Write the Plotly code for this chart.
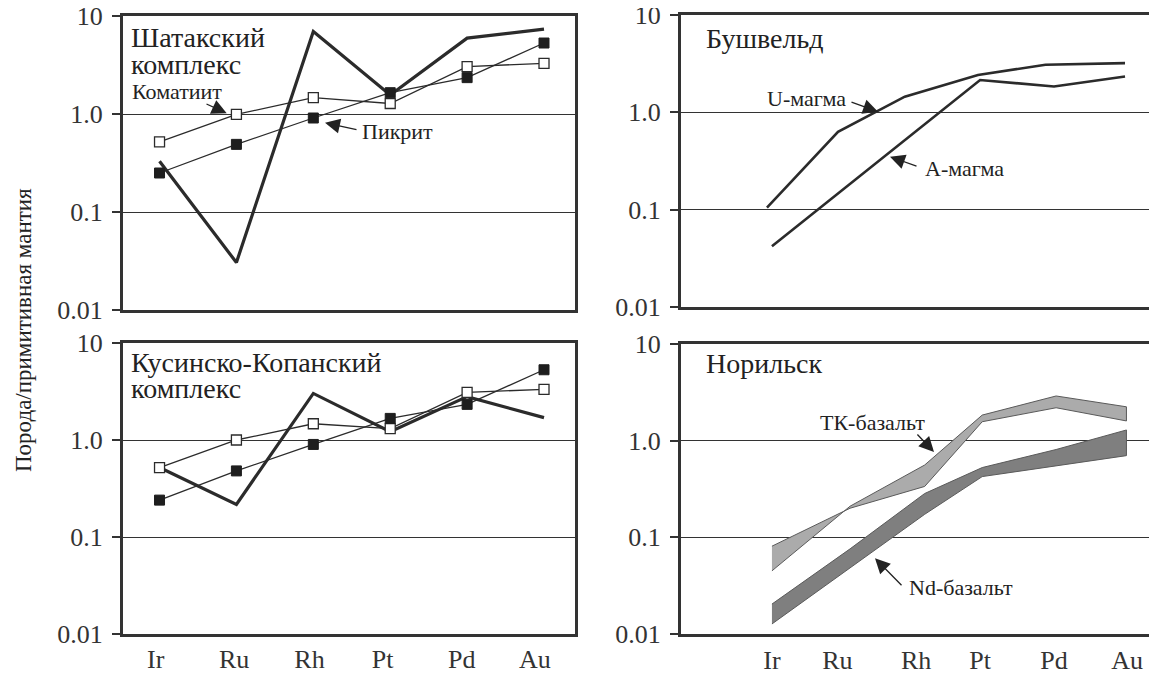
import plotly.graph_objects as go

# visible window 1157x673; the page body adds an 8px offset
OFF = 8
W, H = 1157 - OFF, 673 - OFF

elements = ["Ir", "Ru", "Rh", "Pt", "Pd", "Au"]

# --- Шатакский комплекс (top-left)
shat_komatiite = [0.52, 0.99, 1.47, 1.28, 3.05, 3.29]
shat_picrite = [0.25, 0.49, 0.91, 1.65, 2.35, 5.3]
shat_thick = [0.33, 0.0305, 6.96, 1.56, 5.95, 7.36]

# --- Кусинско-Копанский комплекс (bottom-left)
kus_komatiite = [0.52, 1.0, 1.47, 1.31, 3.1, 3.33]
kus_picrite = [0.24, 0.48, 0.9, 1.67, 2.33, 5.3]
kus_thick = [0.52, 0.217, 3.02, 1.22, 2.8, 1.7]

# --- Бушвельд (top-right)
bush_x = [-0.07, 0.93, 1.87, 2.9, 3.85, 4.97]
u_magma = [0.105, 0.63, 1.45, 2.42, 3.08, 3.2]
a_x = [0.0, 2.93, 3.97, 4.97]
a_magma = [0.042, 2.15, 1.84, 2.33]

# --- Норильск (bottom-right)
nor_x = [0.0, 1.1, 2.15, 2.96, 4.0, 4.99]
tk_a = [0.081, 0.2, 0.336, 1.57, 2.19, 1.6]
tk_b = [0.045, 0.21, 0.56, 1.84, 2.9, 2.24]
nd_upper = [0.0204, 0.076, 0.284, 0.527, 0.81, 1.29]
nd_lower = [0.0127, 0.048, 0.173, 0.425, 0.55, 0.70]

left_idx = list(range(len(elements)))
left_tick_pos = [-0.05, 0.97, 1.95, 2.9, 3.93, 4.88]
right_tick_pos = [0.0, 0.92, 2.03, 2.93, 3.97, 5.0]

INK = "#2b2b2b"
FONT = "Liberation Serif"


def px(x):
    return (x - OFF) / W


def py(y):
    return 1 - (y - OFF) / H


fig = go.Figure()


def add_left(xa, ya, kom, pic, thick):
    fig.add_trace(go.Scatter(x=left_idx, y=thick, mode="lines",
                             line=dict(color=INK, width=3.2),
                             xaxis=xa, yaxis=ya, showlegend=False))
    fig.add_trace(go.Scatter(x=left_idx, y=kom, mode="lines+markers",
                             line=dict(color=INK, width=1.3),
                             marker=dict(symbol="square", size=10, color="white",
                                         line=dict(color=INK, width=1.3)),
                             xaxis=xa, yaxis=ya, showlegend=False))
    fig.add_trace(go.Scatter(x=left_idx, y=pic, mode="lines+markers",
                             line=dict(color=INK, width=1.3),
                             marker=dict(symbol="square", size=10, color="#1e1e1e",
                                         line=dict(color="#1e1e1e", width=1)),
                             xaxis=xa, yaxis=ya, showlegend=False))


add_left("x", "y", shat_komatiite, shat_picrite, shat_thick)
add_left("x3", "y3", kus_komatiite, kus_picrite, kus_thick)

# Bushveld
fig.add_trace(go.Scatter(x=bush_x, y=u_magma, mode="lines",
                         line=dict(color=INK, width=2.6),
                         xaxis="x2", yaxis="y2", showlegend=False))
fig.add_trace(go.Scatter(x=a_x, y=a_magma, mode="lines",
                         line=dict(color=INK, width=2.6),
                         xaxis="x2", yaxis="y2", showlegend=False))


# Norilsk bands (closed polygons built from the edge arrays)
def band(xs, top, bot, fill):
    fig.add_trace(go.Scatter(x=list(xs) + list(xs)[::-1],
                             y=list(top) + list(bot)[::-1],
                             mode="lines", fill="toself", fillcolor=fill,
                             line=dict(color="#5a5a5a", width=1),
                             xaxis="x4", yaxis="y4", showlegend=False))


band(nor_x, nd_upper, nd_lower, "#7f7f7f")
band(nor_x, tk_b, tk_a, "#ababab")

axis_line = dict(showline=True, linewidth=3, linecolor="#333333", zeroline=False,
                 automargin=False)
tickfont = dict(family=FONT, size=26, color="#333333")

ycommon = dict(type="log", range=[-2, 1], tickvals=[0.01, 0.1, 1, 10],
               ticktext=["0.01", "0.1", "1.0", "10"], ticks="outside", ticklen=8,
               tickwidth=1.5, tickcolor="#333333", showgrid=True,
               gridcolor="#333333", gridwidth=1.3, tickfont=tickfont,
               ticklabelstandoff=4, ticklabeloverflow="allow", **axis_line)

layout = dict(
    width=W, height=H, paper_bgcolor="white", plot_bgcolor="white",
    margin=dict(l=0, r=0, t=0, b=0, pad=0, autoexpand=False),
    xaxis=dict(domain=[px(123), px(575)], range=[-0.475, 5.403], showticklabels=False,
               ticks="", showgrid=False, mirror=True, anchor="y", **axis_line),
    yaxis=dict(domain=[py(310), py(16)], anchor="x", mirror=True, **ycommon),
    xaxis3=dict(domain=[px(123), px(575)], range=[-0.475, 5.403], tickvals=left_tick_pos,
                ticktext=elements, ticks="", showgrid=False, mirror=True, anchor="y3",
                tickfont=tickfont, ticklabelstandoff=0, ticklabeloverflow="allow",
                **axis_line),
    yaxis3=dict(domain=[py(634), py(343)], anchor="x3", mirror=True, **ycommon),
    xaxis2=dict(domain=[px(681), 1.0], range=[-1.28, 5.42], showticklabels=False,
                ticks="", showgrid=False, mirror=True, anchor="y2", **axis_line),
    yaxis2=dict(domain=[py(307), py(15)], anchor="x2", mirror=False, **ycommon),
    xaxis4=dict(domain=[px(681), 1.0], range=[-1.28, 5.42], tickvals=right_tick_pos,
                ticktext=elements, ticks="", showgrid=False, mirror=True, anchor="y4",
                tickfont=tickfont, ticklabelstandoff=1, ticklabeloverflow="allow",
                **axis_line),
    yaxis4=dict(domain=[py(634), py(344)], anchor="x4", mirror=False, **ycommon),
)
fig.update_layout(**layout)

ann = []


def text(x, y, t, size=22, xanchor="center", yanchor="middle", angle=0):
    ann.append(dict(x=px(x), y=py(y), xref="paper", yref="paper", text=t,
                    showarrow=False, xanchor=xanchor, yanchor=yanchor, align="left",
                    textangle=angle, borderpad=0,
                    font=dict(family=FONT, size=size, color="#222222")))


def arrow(tipx, tipy, tailx, taily):
    ann.append(dict(x=px(tipx), y=py(tipy), xref="paper", yref="paper", text="",
                    showarrow=True, ax=tailx - tipx, ay=taily - tipy,
                    arrowhead=2, arrowsize=2.3, arrowwidth=1.3,
                    arrowcolor="#222222", standoff=0))


text(130, 37, "Шатакский", size=28, xanchor="left")
text(130, 64, "комплекс", size=28, xanchor="left")
text(177, 92, "Коматиит")
arrow(226.7, 113.3, 205, 103.3)
text(397.5, 132, "Пикрит")
arrow(325, 122.7, 358, 130)

text(130, 362, "Кусинско-Копанский", size=28, xanchor="left")
text(130, 389, "комплекс", size=28, xanchor="left")

text(705, 38, "Бушвельд", size=28, xanchor="left")
text(806, 98, "U-магма")
arrow(878, 111.7, 850, 101.7)
text(964, 168, "А-магма")
arrow(890, 156.7, 918, 166.7)

text(705, 363, "Норильск", size=28, xanchor="left")
text(872, 422, "ТК-базальт")
arrow(934, 452, 916, 433)
text(961, 587, "Nd-базальт")
arrow(875, 558.3, 903, 586.7)

text(24, 330, "Порода/примитивная мантия", size=23, angle=-90)

fig.update_layout(annotations=ann)
fig.write_html("out.html")
